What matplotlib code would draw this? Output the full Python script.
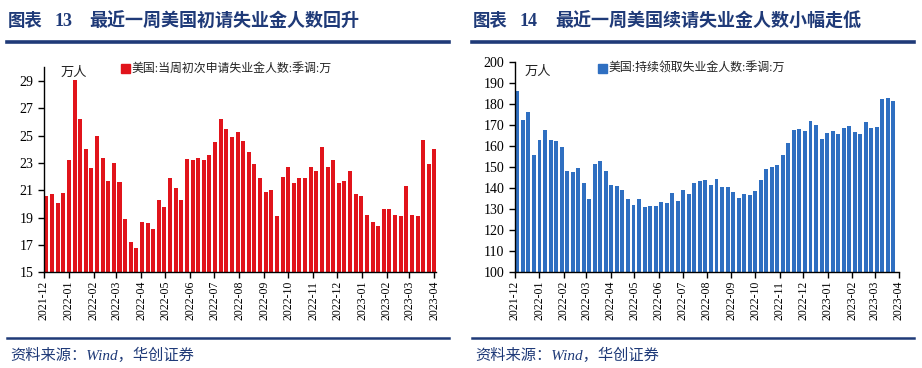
import numpy as np
import pandas as pd
import matplotlib
matplotlib.use("Agg")
import matplotlib.pyplot as plt
import matplotlib.dates as mdates
from matplotlib.lines import Line2D

# weekly initial claims (10k persons), weeks ending 2021-12-04 .. 2023-04-01
initial_claims = [
    20.55, 20.7, 20.05, 20.8, 23.2, 29.1, 26.2, 24.0, 22.6, 25.0,
    23.4, 21.7, 23.0, 21.6, 18.9, 17.2, 16.8, 18.65, 18.6, 18.2,
    20.3, 19.8, 21.9, 21.2, 20.3, 23.3, 23.2, 23.4, 23.2, 23.6,
    24.5, 26.2, 25.5, 24.9, 25.3, 24.6, 23.8, 22.9, 21.9, 20.9,
    21.0, 19.1, 21.95, 22.7, 21.5, 21.9, 21.9, 22.7, 22.4, 24.2,
    22.7, 23.2, 21.5, 21.7, 22.4, 20.7, 20.6, 19.2, 18.7, 18.4,
    19.6, 19.6, 19.2, 19.1, 21.3, 19.2, 19.15, 24.7, 22.9, 24.0,
]
# weekly continuing claims (10k persons), weeks ending 2021-12-04 .. 2023-03-25
continuing_claims = [
    186.1, 172.3, 175.9, 155.9, 162.8, 167.6, 162.8, 162.3, 159.5, 147.9,
    147.6, 149.5, 142.4, 134.8, 151.3, 152.8, 148.1, 141.5, 141.0, 139.1,
    134.7, 132.0, 134.7, 130.9, 131.3, 131.3, 133.5, 132.9, 137.7, 133.9,
    139.0, 137.2, 142.4, 143.4, 143.8, 141.6, 144.1, 140.5, 140.3, 138.1,
    135.1, 137.2, 136.9, 138.6, 144.0, 149.1, 149.8, 150.8, 155.7, 161.2,
    167.4, 168.2, 167.2, 172.0, 170.1, 163.3, 166.0, 166.9, 165.5, 168.5,
    169.3, 166.5, 165.5, 171.5, 168.5, 169.0, 182.3, 182.6, 181.2,
]
legend_left = "美国:当周初次申请失业金人数:季调:万"
legend_right = "美国:持续领取失业金人数:季调:万"
title_left = "最近一周美国初请失业金人数回升"
title_right = "最近一周美国续请失业金人数小幅走低"
source = "资料来源：Wind，华创证券"

RED = "#E1141B"
BLUE = "#2F6FC1"
NAVY = "#1F3A78"
SERIF_CJK = ["Liberation Serif", "Noto Sans CJK SC"]

W, H = 922, 368
fig = plt.figure(figsize=(W / 100, H / 100), dpi=100)


def px_axes(x0, y_top, x1, y_bot):
    return fig.add_axes([x0 / W, 1 - y_bot / H, (x1 - x0) / W, (y_bot - y_top) / H])


def draw_panel(ax, values, color, ylim, step, xend):
    dates = pd.date_range("2021-12-04", periods=len(values), freq="W-SAT")
    ax.bar(dates, values, width=5, color=color, bottom=0, zorder=2)
    ax.set_yticks(np.arange(ylim[0], ylim[1] + 0.1, step))
    ax.set_ylim(*ylim)
    ax.set_xlim(pd.Timestamp("2021-12-01"), pd.Timestamp(xend))
    ax.xaxis.set_major_locator(mdates.MonthLocator())
    ax.xaxis.set_major_formatter(mdates.DateFormatter("%Y-%m"))
    for s in ("top", "right"):
        ax.spines[s].set_visible(False)
    for s in ("left", "bottom"):
        ax.spines[s].set_linewidth(1.0)
        ax.spines[s].set_color("black")
    ax.tick_params(axis="both", direction="out", length=4, width=1, labelsize=8.5)
    ax.tick_params(axis="x", pad=2)
    for lab in ax.get_xticklabels():
        lab.set_rotation(90)
        lab.set_fontfamily("Liberation Serif")
    for lab in ax.get_yticklabels():
        lab.set_fontfamily("Liberation Serif")
        lab.set_fontsize(10)
    ax.set_facecolor("none")


ax1 = px_axes(44, 67.3, 436, 272.3)
draw_panel(ax1, initial_claims, RED, (15, 29), 2, "2023-04-03")
ax1.set_ylim(15, 30)

ax2 = px_axes(515, 61.7, 899, 272.3)
draw_panel(ax2, continuing_claims, BLUE, (100, 200), 10, "2023-04-01")


def ptext(x, y, s, **kw):
    fig.text(x / W, 1 - y / H, s, **kw)


# legends and unit labels
for x, col, txt in ((121, RED, legend_left), (598, BLUE, legend_right)):
    fig.patches.append(plt.Rectangle((x / W, 1 - 73 / H), 9 / W, 9 / H,
                                     transform=fig.transFigure, color=col))
    ptext(x + 10, 69, txt, family=SERIF_CJK, fontsize=8.6, va="center", color="#222222")

ptext(61, 73, "万人", family=SERIF_CJK, fontsize=9.5, va="center", color="#222222")
ptext(525, 72, "万人", family=SERIF_CJK, fontsize=9.5, va="center", color="#222222")

# titles
for x0, num, xt, title in ((8, "13", 89, title_left), (473, "14", 555, title_right)):
    ptext(x0, 22, "图表", family=SERIF_CJK, fontsize=12.5, weight="bold", color=NAVY, va="center")
    ptext(x0 + 47, 22, num, family=SERIF_CJK, fontsize=13, weight="bold", color=NAVY, va="center")
    ptext(xt, 22, title, family=SERIF_CJK, fontsize=13, weight="bold", color=NAVY, va="center")

# rules
for xa, xb in ((7, 449), (472, 914)):
    fig.add_artist(Line2D([xa / W, xb / W], [1 - 41.5 / H] * 2, color=NAVY, lw=2.6))
    fig.add_artist(Line2D([xa / W, xb / W], [1 - 338 / H] * 2, color=NAVY, lw=1.8))

ptext(10, 355, source, family=SERIF_CJK, fontsize=11, style="italic", color=NAVY, va="center")
ptext(475, 355, source, family=SERIF_CJK, fontsize=11, style="italic", color=NAVY, va="center")

fig.savefig("out.png", dpi=100)
